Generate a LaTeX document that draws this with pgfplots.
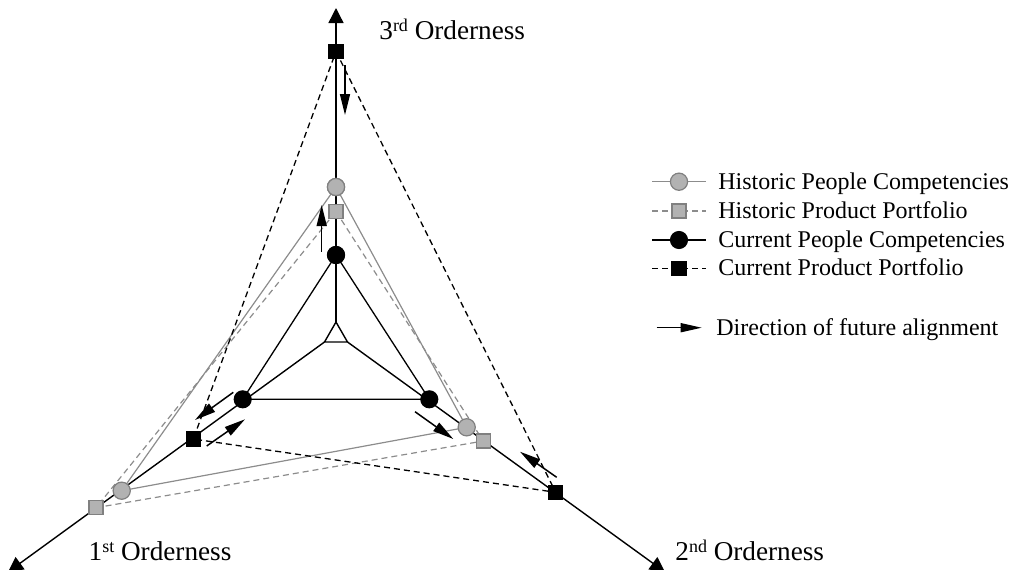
\documentclass[border=0pt]{standalone}
\usepackage{fontspec}
\setmainfont{Liberation Serif}
\usepackage{pgfplots}
\pgfplotsset{compat=1.18}
\usetikzlibrary{arrows.meta}
\definecolor{hline}{RGB}{140,140,140}
\definecolor{hfill}{RGB}{178,178,178}
\definecolor{hedge}{RGB}{128,128,128}
\newcommand{\lbl}[2]{\fontsize{13.6pt}{16pt}\selectfont #1\raisebox{3.9pt}{\fontsize{9pt}{10pt}\selectfont #2} Orderness}
\begin{document}
\begin{tikzpicture}
\begin{axis}[x=0.5pt, y=0.5pt, xmin=0, xmax=1014, ymin=0, ymax=569,
  y dir=reverse, enlargelimits=false, hide axis, clip=false]
% ---- axes of the triangle chart ----
\addplot[black, line width=0.7pt] coordinates {(336,322) (324.5,342) (347.5,342) (336,322)};
\addplot[black, line width=0.7pt, -{Triangle[length=7.5pt,width=7.5pt]}] coordinates {(336,322) (336,8)};
\addplot[black, line width=0.7pt, -{Triangle[length=7.5pt,width=7.5pt]}] coordinates {(324.5,342) (8,572)};
\addplot[black, line width=0.7pt, -{Triangle[length=7.5pt,width=7.5pt]}] coordinates {(347.5,342) (665,572)};
% ---- series ----
% Historic People Competencies
\addplot[hline, line width=0.6pt, mark=*, mark size=4.3pt, mark options={fill=hfill, draw=hedge, solid}]
  coordinates {(336,187) (466.7,427.3) (121.7,490.7) (336,187)};
% Historic Product Portfolio
\addplot[hline, line width=0.6pt, dash pattern=on 3pt off 2pt, mark=square*, mark size=3.5pt, mark options={fill=hfill, draw=hedge, solid}]
  coordinates {(336,211.5) (483.3,441) (96,507.7) (336,211.5)};
% Current People Competencies
\addplot[black, line width=0.65pt, mark=*, mark size=4.2pt, mark options={fill=black, solid}]
  coordinates {(336,255) (429.3,399.3) (242.7,399.3) (336,255)};
% Current Product Portfolio
\addplot[black, line width=0.65pt, dash pattern=on 3pt off 2pt, mark=square*, mark size=3.5pt, mark options={fill=black, solid}]
  coordinates {(336,51.5) (555.7,492.3) (193.3,439) (336,51.5)};
% ---- direction of future alignment ----
\addplot[black, line width=0.75pt, -{Triangle[length=10.5pt,width=5pt]}] coordinates {(345,65) (345,115)};
\addplot[black, line width=0.75pt, -{Triangle[length=10.5pt,width=5pt]}] coordinates {(321.7,251.7) (321.7,205)};
\addplot[black, line width=0.75pt, -{Triangle[length=10.5pt,width=5pt]}] coordinates {(233.3,392.3) (195,420)};
\addplot[black, line width=0.75pt, -{Triangle[length=10.5pt,width=5pt]}] coordinates {(206.7,446) (245,419.3)};
\addplot[black, line width=0.75pt, -{Triangle[length=10.5pt,width=5pt]}] coordinates {(415,411.7) (453.3,439)};
\addplot[black, line width=0.75pt, -{Triangle[length=10.5pt,width=5pt]}] coordinates {(556.7,477.3) (520,451.7)};
% ---- axis labels ----
\node[anchor=base west, inner sep=0pt] at (axis cs:379,39.3) {\lbl{3}{rd}};
\node[anchor=base west, inner sep=0pt] at (axis cs:88.3,560.7) {\lbl{1}{st}};
\node[anchor=base west, inner sep=0pt] at (axis cs:675,560) {\lbl{2}{nd}};
% ---- legend ----
\addplot[hline, line width=0.6pt, mark=*, mark indices={2}, mark size=4.3pt, mark options={fill=hfill, draw=hedge, solid}]
  coordinates {(652,181.7) (679,181.7) (706,181.7)};
\addplot[hline, line width=0.6pt, dash pattern=on 3pt off 2pt, mark=square*, mark indices={2}, mark size=3.5pt, mark options={fill=hfill, draw=hedge, solid}]
  coordinates {(652,211) (679,211) (706,211)};
\addplot[black, line width=0.65pt, mark=*, mark indices={2}, mark size=4.2pt, mark options={fill=black, solid}]
  coordinates {(652,240) (679,240) (706,240)};
\addplot[black, line width=0.65pt, dash pattern=on 3pt off 2pt, mark=square*, mark indices={2}, mark size=3.5pt, mark options={fill=black, solid}]
  coordinates {(652,268.3) (679,268.3) (706,268.3)};
\addplot[black, line width=0.75pt, -{Triangle[length=10.5pt,width=4.5pt]}] coordinates {(656.7,327.7) (701.7,327.7)};
\begin{scope}[every node/.style={anchor=base west, inner sep=0pt, font=\fontsize{12pt}{14pt}\selectfont}]
\node at (axis cs:718,189.3) {Historic People Competencies};
\node at (axis cs:718,218.6) {Historic Product Portfolio};
\node at (axis cs:718,247.6) {Current People Competencies};
\node at (axis cs:718,275.9) {Current Product Portfolio};
\node at (axis cs:716,335.3) {Direction of future alignment};
\end{scope}
\end{axis}
\pgfresetboundingbox
\path (0,0) rectangle (507pt,284.5pt);
\end{tikzpicture}
\end{document}
